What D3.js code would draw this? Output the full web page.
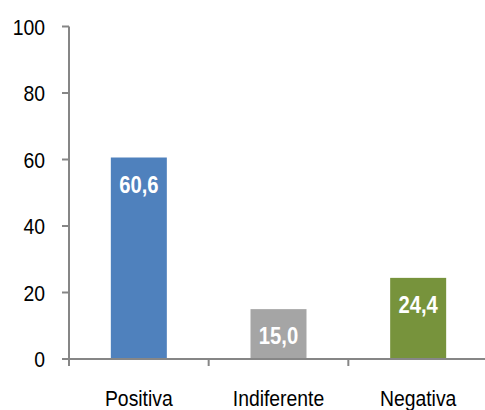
<!DOCTYPE html>
<html><head><meta charset="utf-8">
<script src="https://cdn.jsdelivr.net/npm/d3@7"></script>
<style>
html,body{margin:0;padding:0;background:#fff;}
text{font-family:"Liberation Sans Narrow","Arial Narrow","Liberation Sans",Arial,sans-serif;}
</style></head>
<body><svg id="c" width="485" height="410"></svg>
<script>
const categories = ["Positiva","Indiferente","Negativa"];
const values = [60.6, 15.0, 24.4];
const valueLabels = ["60,6","15,0","24,4"];
const colors = ["#4F81BD","#A5A5A5","#77933C"];
const yTicks = [0,20,40,60,80,100];

const svg = d3.select("#c");
const x0 = 69, x1 = 488, yBot = 359, yTop = 26.5;
const x = d3.scaleBand().domain(categories).range([x0, x1]).paddingInner(0).paddingOuter(0);
const y = d3.scaleLinear().domain([0,100]).range([yBot, yTop]);
const axisColor = "#868686";
const barW = 56;

function label(px, py, txt, opts){
  const g = svg.append("g").attr("transform",`translate(${px},${py}) scale(${opts.sx},1)`);
  g.append("text").attr("x",0).attr("y",0).attr("text-anchor",opts.anchor)
    .attr("font-size",opts.size).attr("font-weight",opts.weight||"normal")
    .attr("fill",opts.fill).text(txt);
}

// y axis
svg.append("line").attr("x1",x0).attr("x2",x0).attr("y1",y(100)).attr("y2",yBot+7)
  .attr("stroke",axisColor).attr("stroke-width",2);
yTicks.forEach(t=>{
  svg.append("line").attr("x1",x0-7).attr("x2",x0).attr("y1",y(t)).attr("y2",y(t))
    .attr("stroke",axisColor).attr("stroke-width",2);
  label(45, y(t)+8, t, {sx:0.88, anchor:"end", size:22, fill:"#000"});
});

// bars
categories.forEach((c,i)=>{
  const cx = x(c)+x.bandwidth()/2;
  svg.append("rect").attr("x",cx-barW/2).attr("width",barW)
    .attr("y",y(values[i])).attr("height",yBot-y(values[i])).attr("fill",colors[i]);
  label(cx, y(values[i])+35, valueLabels[i], {sx:0.88, anchor:"middle", size:23, weight:"bold", fill:"#fff"});
  label(cx, 406, c, {sx:0.88, anchor:"middle", size:22, fill:"#000"});
});

// x axis
svg.append("line").attr("x1",x0-7).attr("x2",485).attr("y1",yBot).attr("y2",yBot)
  .attr("stroke",axisColor).attr("stroke-width",2);
categories.forEach(c=>{
  const xx = x(c)+x.bandwidth();
  svg.append("line").attr("x1",xx).attr("x2",xx).attr("y1",yBot).attr("y2",yBot+7)
    .attr("stroke",axisColor).attr("stroke-width",2);
});
</script></body></html>
